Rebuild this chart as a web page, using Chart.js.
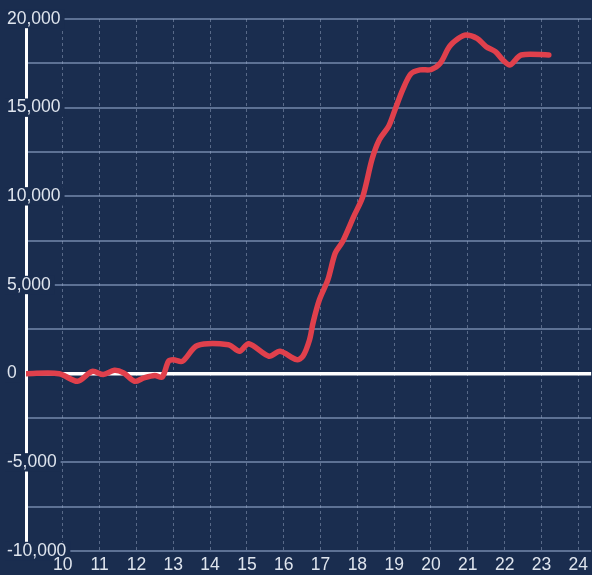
<!DOCTYPE html>
<html>
<head>
<meta charset="utf-8">
<script src="https://cdn.jsdelivr.net/npm/chart.js@4"></script>
<style>
  html, body { margin: 0; padding: 0; background: #1a2d4f; }
  #wrap { width: 592px; height: 575px; position: relative; }
</style>
</head>
<body>
<div id="wrap"><canvas id="c"></canvas></div>
<script>
// Data (hour of day, value)
const hours = [9, 9.9, 10.4, 10.8, 11.1, 11.4, 11.65, 11.95, 12.2, 12.5, 12.7, 12.87, 13.0, 13.25, 13.65, 14.5, 14.8, 15.05, 15.6, 15.9, 16.35, 16.52, 16.7, 16.8, 16.97, 17.2, 17.4, 17.6, 17.9, 18.15, 18.4, 18.6, 18.85, 19.02, 19.23, 19.45, 19.7, 20.0, 20.25, 20.5, 20.75, 20.95, 21.25, 21.5, 21.75, 21.95, 22.15, 22.45, 23.2];
const values = [0, 0, -430, 130, -50, 190, 40, -430, -240, -100, -190, 700, 780, 700, 1580, 1630, 1260, 1690, 980, 1260, 790, 980, 1900, 2900, 4170, 5300, 6800, 7450, 8860, 10000, 12100, 13200, 13950, 14870, 16000, 16900, 17130, 17150, 17500, 18440, 18910, 19100, 18910, 18440, 18160, 17690, 17410, 17970, 17970];
const xTickLabels = [10, 11, 12, 13, 14, 15, 16, 17, 18, 19, 20, 21, 22, 23, 24];
const yLabelled = [20000, 15000, 10000, 5000, 0, -5000, -10000];

const BG = '#1a2d4f';
const TEXT = '#dfe5ee';

const points = hours.map((h, i) => ({ x: h, y: values[i] }));

new Chart(document.getElementById('c'), {
  type: 'line',
  data: {
    datasets: [{
      data: points,
      borderColor: '#e0404c',
      borderWidth: 5.5,
      pointRadius: 0,
      tension: 0.3,
      borderJoinStyle: 'round',
      borderCapStyle: 'round',
      fill: false
    }]
  },
  options: {
    responsive: true,
    maintainAspectRatio: false,
    animation: false,
    layout: { padding: { left: 7, top: 19, right: 0, bottom: 0 } },
    plugins: { legend: { display: false }, tooltip: { enabled: false } },
    scales: {
      x: {
        type: 'linear',
        min: 9,
        max: 24.35,
        afterFit: s => { s.height = 24; },
        ticks: {
          stepSize: 1,
          includeBounds: false,
          autoSkip: false,
          maxRotation: 0,
          padding: 4,
          z: 2,
          color: TEXT,
          font: { family: 'Liberation Sans', size: 17.5 },
          callback: v => xTickLabels.includes(v) ? String(v) : ''
        },
        grid: {
          z: -1,
          drawTicks: false,
          lineWidth: 1,
          color: ctx => (ctx.tick && xTickLabels.includes(ctx.tick.value)) ? 'rgba(190,205,230,0.38)' : 'rgba(0,0,0,0)'
        },
        border: { display: false, dash: [3, 3] }
      },
      y: {
        min: -10000,
        max: 20000,
        afterFit: s => { s.width = 19; },
        ticks: {
          stepSize: 2500,
          mirror: true,
          padding: -19,
          z: 1,
          color: TEXT,
          font: { family: 'Liberation Sans', size: 17.5, lineHeight: 1.05 },
          showLabelBackdrop: ctx => yLabelled.includes(ctx.tick.value),
          backdropColor: BG,
          backdropPadding: { left: 2, right: 4, top: 0, bottom: 0 },
          callback: v => yLabelled.includes(v) ? v.toLocaleString('en-US') : ''
        },
        grid: {
          drawTicks: false,
          lineWidth: ctx => (ctx.tick && ctx.tick.value === 0) ? 3.5 : 2,
          color: ctx => (ctx.tick && ctx.tick.value === 0) ? '#ffffff' : 'rgba(150,170,205,0.55)'
        },
        border: { display: true, color: '#ffffff', width: 3 }
      }
    }
  }
});
</script>
</body>
</html>
